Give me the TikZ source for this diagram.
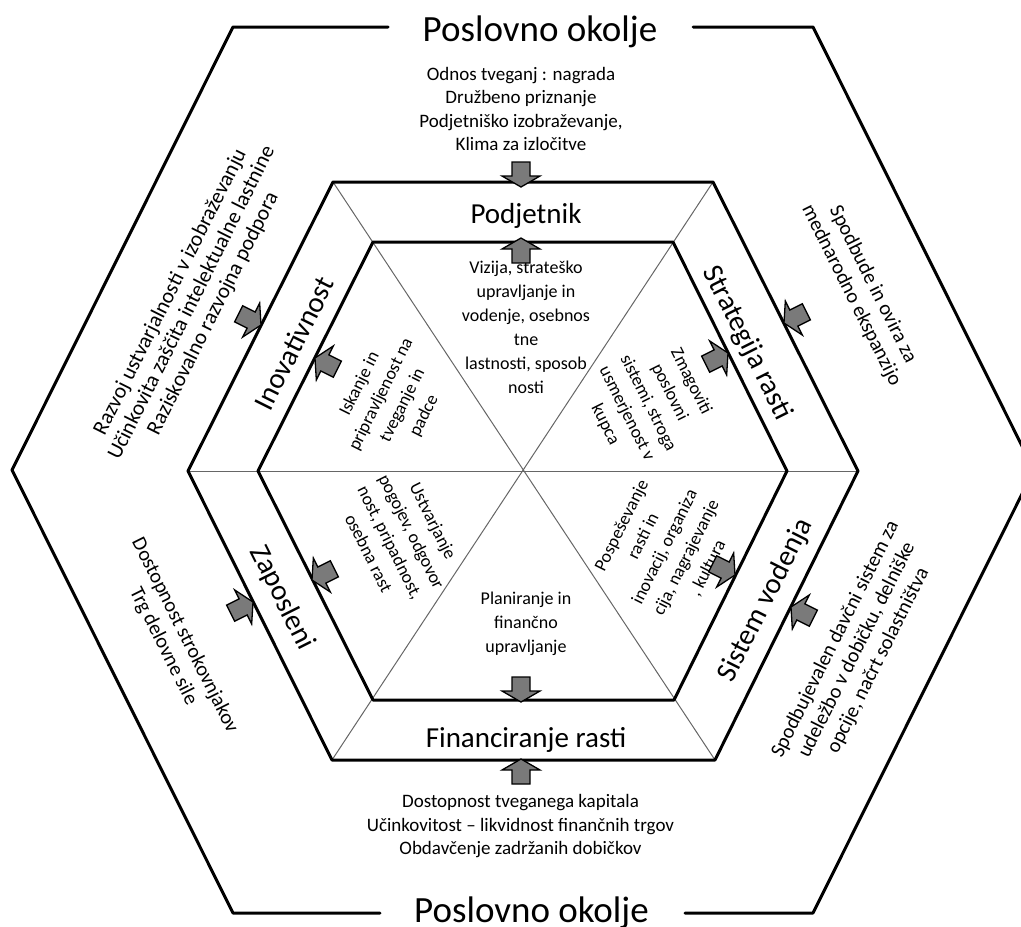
\documentclass[tikz,border=0pt]{standalone}
\usepackage{fontspec}
\setmainfont{Carlito}
\begin{document}
\begin{tikzpicture}[x=1pt,y=-1pt,
  thickline/.style={line width=3pt, line join=round, line cap=round},
  spoke/.style={line width=1pt, draw=black!60},
  txt/.style={inner sep=0pt, align=center},
  titletext/.style={txt, font=\fontsize{37}{44}\selectfont},
  labeltext/.style={txt, font=\fontsize{29}{34}\selectfont},
  outertext/.style={txt, font=\fontsize{19}{23.5}\selectfont},
  sidetext/.style={txt, font=\fontsize{20.5}{24}\selectfont},
  bigsidetext/.style={txt, font=\fontsize{21.5}{24}\selectfont},
  innertext/.style={txt, font=\fontsize{18}{24}\selectfont},
  barrow/.pic={\filldraw[fill=black!52, draw=black, line width=1.3pt, line join=miter]
     (0,0) -- (-11,19) -- (-11,9) -- (-25,9) -- (-25,-9) -- (-11,-9) -- (-11,-19) -- cycle;}
]
\useasboundingbox (0,0) rectangle (1021,927);
\clip (0,0) rectangle (1021,927);

% outer hexagon (business environment)
\draw[thickline] (388,27) -- (233,27) -- (12,470) -- (233,913) -- (380,913);
\draw[thickline] (693,27) -- (813,27) -- (1034,470) -- (813,913) -- (685,913);

% spokes
\draw[spoke] (333,182) -- (715,760);
\draw[spoke] (713,182) -- (332,760);
\draw[spoke] (188,471) -- (858,471);

% middle and inner hexagons
\draw[thickline] (333,182) -- (713,182) -- (858,471) -- (715,760) -- (332,760) -- (188,471) -- cycle;
\draw[thickline] (373,242) -- (673,242) -- (787,471) -- (674,700) -- (373,700) -- (258,471) -- cycle;

% titles
\node[titletext, anchor=base] (ttop) at (540,41.5) {Poslovno okolje};
\node[titletext, anchor=base] (tbot) at (531.5,922) {Poslovno okolje};

% outer texts
\node[outertext] (otop) at (521,109) {Odnos tveganj : nagrada\\Družbeno priznanje\\Podjetniško izobraževanje,\\Klima za izločitve};
\node[outertext] (obot) at (520.5,826.5) {Dostopnost tveganega kapitala\\Učinkovitost – likvidnost finančnih trgov\\Obdavčenje zadržanih dobičkov};
\node[bigsidetext, rotate=63.4] (oul) at (192,303) {Razvoj ustvarjalnosti v izobraževanju\\Učinkovita zaščita intelektualne lastnine\\Raziskovalno razvojna podpora};
\node[sidetext, rotate=-63.4] (our) at (862,290) {Spodbude in ovira za\\mednarodno ekspanzijo};
\node[sidetext, rotate=-63.4] (oll) at (174,641) {Dostopnost strokovnjakov\\Trg delovne sile};
\node[sidetext, rotate=63.4] (olr) at (857,650) {Spodbujevalen davčni sistem za\\udeležbo v dobičku, delniške\\opcije, načrt solastništva};

% band labels
\node[labeltext, anchor=base] (lpod) at (526,223) {Podjetnik};
\node[labeltext, anchor=base] (lfin) at (526,747) {Financiranje rasti};
\node[labeltext, rotate=63.4] (linov) at (294,343) {Inovativnost};
\node[labeltext, rotate=-63.4] (lstrat) at (747,343) {Strategija rasti};
\node[labeltext, rotate=-63.4] (lzap) at (282,598) {Zaposleni};
\node[labeltext, rotate=63.4] (lsis) at (766,600) {Sistem vodenja};

% inner texts
\node[innertext] (itop) at (526,327.5) {Vizija, strateško\\upravljanje in\\vodenje, osebnos\\tne\\lastnosti, sposob\\nosti};
\node[innertext, rotate=63.4] (ileft) at (392,400) {Iskanje in\\pripravljenost na\\tveganje in\\padce};
\node[innertext, rotate=-63.4] (iright) at (648,403) {Zmagoviti\\poslovni\\sistemi, stroga\\usmerjenost v\\kupca};
\node[innertext, rotate=-63.4] (ibl) at (401,537) {Ustvarjanje\\pogojev, odgovor\\nost, pripadnost,\\osebna rast};
\node[innertext, rotate=63.4] (ibr) at (665,547) {Pospeševanje\\rasti in\\inovacij, organiza\\cija, nagrajevanje\\, kultura};
\node[innertext] (ibot) at (526,624) {Planiranje in\\finančno\\upravljanje};

% block arrows
\pic[rotate=-90] (a1) at (521,187) {barrow};
\pic[rotate=90] (a2) at (521,238) {barrow};
\pic[rotate=-90] (a3) at (521,702) {barrow};
\pic[rotate=90] (a4) at (521,759) {barrow};
\pic[rotate=-26.6] (a5) at (261,325) {barrow};
\pic[rotate=153.4] (a6) at (315,358) {barrow};
\pic[rotate=-153.4] (a7) at (784,323) {barrow};
\pic[rotate=26.6] (a8) at (728,353) {barrow};
\pic[rotate=26.6] (a9) at (253,602) {barrow};
\pic[rotate=-153.4] (a10) at (312,580) {barrow};
\pic[rotate=-26.6] (a11) at (735,575) {barrow};
\pic[rotate=153.4] (a12) at (791,607) {barrow};
\end{tikzpicture}
\end{document}
